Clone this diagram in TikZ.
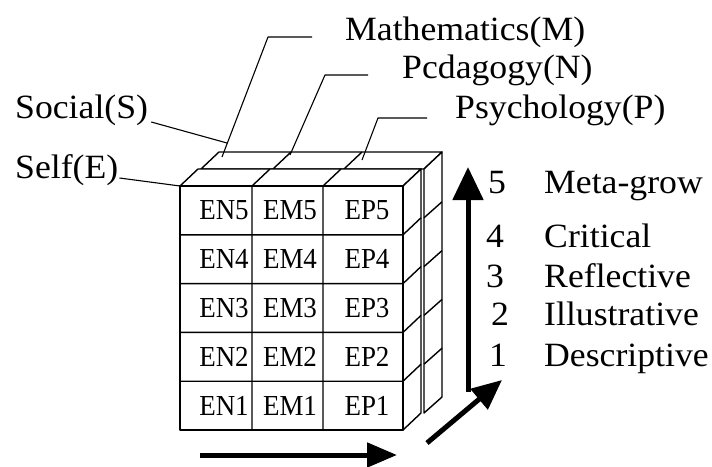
\documentclass[tikz,border=0pt]{standalone}
\usepackage{fontspec}
\setmainfont{Liberation Serif}[FakeStretch=1.05]
\newfontfamily\cellfont{Liberation Serif}[FakeStretch=0.93]
\usetikzlibrary{arrows.meta,calc}

\begin{document}
\begin{tikzpicture}[x=1pt,y=-1pt,line join=round,
	edge/.style={line width=1.4pt},
	leader/.style={line width=1.1pt},
	lbl/.style={font=\fontsize{34}{40}\selectfont,inner sep=0pt},
	cellname/.style={font=\cellfont\fontsize{29}{32}\selectfont,inner sep=0pt},
	axis/.style={line width=5pt}]
		%%%%% START %%%%%
		\useasboundingbox (0,0) rectangle (712,466);
		
		% back layer (S)
		\draw[edge,fill=white] (201,169) -- (219,152) -- (442,152) -- (424,169) -- cycle;
		\draw[edge,fill=white] (424,169) -- (442,152) -- (442,397) -- (424,413) -- cycle;
		\draw[edge] (273,169) -- (291,152);
		\draw[edge] (344,169) -- (362,152);
		\foreach \y in {234.8,283.6,332.4,381.2}
			\draw[edge] (424,\y-17) -- (442,\y-33);
		
		% front layer (E)
		\draw[edge,fill=white] (180,186) -- (198,169) -- (421,169) -- (403,186) -- cycle;
		\draw[edge,fill=white] (403,186) -- (421,169) -- (421,413) -- (403,430) -- cycle;
		\draw[edge,fill=white] (180,186) rectangle (403,430);
		\foreach \x in {252,323}
			\draw[edge] (\x,430) -- (\x,186) -- (\x+18,169);
		\foreach \y in {234.8,283.6,332.4,381.2}
			\draw[edge] (180,\y) -- (403,\y) -- (421,\y-17);
		
		\foreach \r in {1,...,5} {
			\node[cellname] (en\r) at (224,{430-48.8*(\r-0.5)}) {EN\r};
			\node[cellname] (em\r) at (290,{430-48.8*(\r-0.5)}) {EM\r};
			\node[cellname] (ep\r) at (367,{430-48.8*(\r-0.5)}) {EP\r};
		}
		
		% axes
		\draw[axis,-{Triangle[length=33pt,width=30pt]}] (468,392) -- (468,167);
		\draw[axis,-{Triangle[length=30pt,width=26pt]}] (427,443) -- (502,380);
		\draw[axis,-{Triangle[length=30pt,width=24pt]}] (200,455) -- (397,455);
		
		% domains
		\node[lbl,anchor=base west] (math) at (345,40) {Mathematics(M)};
		\node[lbl,anchor=base west] (peda) at (402,78) {Pcdagogy(N)};
		\node[lbl,anchor=base west] (psych) at (455,118) {Psychology(P)};
		\node[lbl,anchor=base west] (social) at (15,118) {Social(S)};
		\node[lbl,anchor=base west] (self) at (15,178) {Self(E)};
		
		\coordinate (mathbend) at (268,37);
		\coordinate (mathtip) at (222,157);
		\coordinate (pedabend) at (325,75);
		\coordinate (pedatip) at (290,155);
		\coordinate (psychbend) at (378,118);
		\coordinate (psychtip) at (362,160);
		\coordinate (socialtip) at (227,143);
		\coordinate (selftip) at (180,186);
		
		\draw[leader] ($(math.base west)+(-33,-3)$) -- (mathbend) -- (mathtip);
		\draw[leader] ($(peda.base west)+(-34,-3)$) -- (pedabend) -- (pedatip);
		\draw[leader] ($(psych.base west)+(-28,0)$) -- (psychbend) -- (psychtip);
		\draw[leader] ($(social.base east)+(3,4)$) -- (socialtip);
		\draw[leader] ($(self.base east)+(1,0)$) -- (selftip);
		
		% levels
		\foreach \n/\nx/\by/\txt in {5/497/193/Meta-grow,4/495/247/Critical,
				3/495/287/Reflective,2/500/325/Illustrative,1/498/366/Descriptive} {
			\node[lbl,anchor=base] (num\n) at (\nx,\by) {\n};
			\node[lbl,anchor=base west] (lvl\n) at (544,\by) {\txt};
		}
		%%%%% END %%%%%
\end{tikzpicture}
\end{document}
